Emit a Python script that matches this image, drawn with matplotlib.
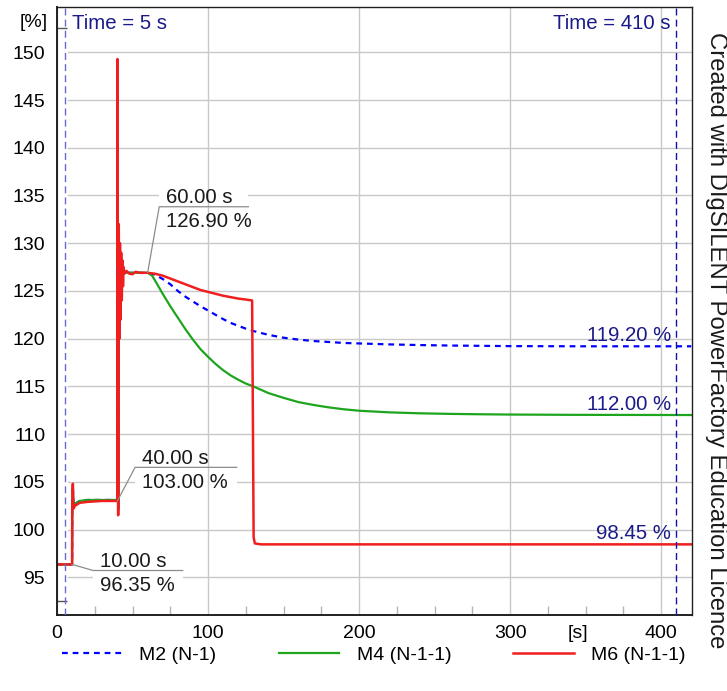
import matplotlib
matplotlib.use('Agg')
import matplotlib.pyplot as plt
from matplotlib.patches import Rectangle

plt.rcParams['font.family'] = ['Liberation Sans', 'DejaVu Sans']
plt.rcParams['font.size'] = 14

# Loading [%] of the three machines
blue_t = [0, 10, 10.1, 10.5, 10.9, 12, 15, 20, 30, 39.9,
          40.2, 40.6, 41.0, 41.5, 42.0, 42.6, 43.2, 44.0, 50, 55, 60,
          65, 70, 75, 80, 85, 90, 95, 100, 105, 110, 115, 120, 125, 130,
          140, 150, 160, 170, 180, 190, 200, 220, 240, 260, 280, 300, 350, 420]
blue_v = [96.35, 96.35, 102.5, 104.6, 102.4, 102.7, 103.0, 103.1, 103.1, 103.1,
          138.0, 102.0, 128.5, 122.0, 128.0, 125.0, 127.3, 126.9, 126.9, 126.9, 126.9,
          126.7, 126.25, 125.7, 125.0, 124.4, 123.9, 123.4, 122.95, 122.5, 122.05, 121.65, 121.35, 121.05, 120.8,
          120.4, 120.1, 119.9, 119.75, 119.65, 119.55, 119.5, 119.4, 119.33, 119.28, 119.25, 119.22, 119.2, 119.2]

green_t = [0, 10, 10.1, 10.5, 10.9, 12, 15, 20, 30, 39.9,
           40.2, 40.6, 41.0, 41.5, 42.0, 42.6, 43.2, 44.0, 50, 55, 60,
           63, 66, 70, 75, 80, 85, 90, 95, 100, 105, 110, 115, 120, 125, 130,
           140, 150, 160, 170, 180, 190, 200, 220, 240, 260, 280, 300, 340, 420]
green_v = [96.35, 96.35, 102.5, 104.5, 102.4, 102.7, 103.0, 103.1, 103.1, 103.1,
           135.0, 102.2, 128.0, 122.5, 127.8, 125.2, 127.2, 126.9, 126.9, 126.9, 126.9,
           126.6, 125.8, 124.7, 123.4, 122.2, 121.0, 119.9, 118.9, 118.1, 117.35, 116.7, 116.15, 115.7, 115.3, 115.0,
           114.3, 113.8, 113.35, 113.05, 112.8, 112.6, 112.45, 112.28, 112.18, 112.12, 112.08, 112.05, 112.02, 112.0]

red_t = [0, 10, 10.1, 10.5, 10.9, 12, 15, 20, 30, 39.9,
         40.05, 40.5, 40.9, 41.3, 41.7, 42.1, 42.5, 42.9, 43.3, 43.7, 44.1, 44.6,
         46, 48, 50, 52, 55, 60, 65, 70, 75, 80, 85, 90, 95, 100,
         105, 110, 115, 120, 125, 129.2, 129.7, 130.2, 131, 135, 420]
red_v = [96.35, 96.35, 102.4, 104.8, 102.2, 102.5, 102.8, 102.9, 103.0, 103.0,
         149.3, 101.5, 132.0, 120.0, 130.0, 122.0, 129.0, 124.0, 128.2, 125.5, 127.5, 126.8,
         127.1, 126.8, 126.75, 127.0, 126.9, 126.9, 126.8, 126.6, 126.3, 126.0, 125.7, 125.4, 125.1, 124.9,
         124.7, 124.5, 124.35, 124.2, 124.1, 124.0, 112.0, 99.2, 98.55, 98.45, 98.45]

series_names = ['M2 (N-1)', 'M4 (N-1-1)', 'M6 (N-1-1)']

# cursor labels (point, label anchor, end of separator line)
ann_t = [10, 40, 60]
ann_v = [96.35, 103.00, 126.90]
ann_lt = [24.0, 51.7, 67.7]
ann_lv = [95.71, 106.52, 133.82]
ann_et = [83.2, 119.0, 126.7]
ann_line1 = ['10.00 s', '40.00 s', '60.00 s']
ann_line2 = ['96.35 %', '103.00 %', '126.90 %']

cursor_times = [5, 410]
final_values = [119.2, 112.0, 98.45]
final_labels = ['119.20 %', '112.00 %', '98.45 %']

navy = '#1a1a8a'
label_size = 14.7

fig = plt.figure(figsize=(7.27, 6.91), dpi=100)
ax = fig.add_axes([0.0784, 0.110, 0.8735, 0.8799])
ax.set_xlim(0, 420.5)
ax.set_ylim(91.05, 154.75)

# grid
ax.set_xticks([0, 100, 200, 300, 400])
ax.set_yticks(range(95, 151, 5))
ax.grid(axis='x', color='#c8c8c8', lw=1.0, zorder=0.5)
for yv in range(95, 151, 5):
    ax.axhline(yv, xmin=0.017, color='#c8c8c8', lw=1.0, zorder=0.5)
ax.set_xticks(range(25, 420, 25), minor=True)
ax.set_yticks([92.5, 152.5], minor=True)
ax.tick_params(which='major', length=0, labelsize=14)
ax.tick_params(axis='x', which='major', pad=7.5)
ax.tick_params(axis='y', which='major', pad=8.5)
ax.tick_params(axis='x', which='minor', direction='in', length=6.5, color='#b5b5b5', width=1)
ax.tick_params(axis='y', which='minor', direction='in', length=7, color='#555555', width=1)
for s in ax.spines.values():
    s.set_color('#202020')
    s.set_linewidth(1.0)
ax.spines['left'].set_linewidth(1.4)
ax.spines['bottom'].set_linewidth(1.4)

# curves
ax.plot(blue_t, blue_v, color='#0000ff', lw=1.6, dashes=(2.6, 2.2), label=series_names[0], zorder=2)
ax.plot(green_t, green_v, color='#1ea51e', lw=1.6, label=series_names[1], zorder=2.1)
ax.plot(red_t, red_v, color='#f01e1e', lw=1.8, label=series_names[2], zorder=2.2)

# time cursors
ax.axvline(cursor_times[0], color='#6a6ac8', lw=1.0, ls=(0, (5, 3)), zorder=3)
ax.axvline(cursor_times[1], color='#1010b0', lw=1.0, ls=(0, (5, 3)), zorder=3)
ax.annotate('Time = 5 s', (cursor_times[0], 0.9633), xycoords=('data', 'axes fraction'),
            xytext=(5.5, 0), textcoords='offset points', ha='left', va='baseline',
            color=navy, fontsize=label_size)
ax.annotate('Time = 410 s', (cursor_times[1], 0.9633), xycoords=('data', 'axes fraction'),
            xytext=(-4.3, 0), textcoords='offset points', ha='right', va='baseline',
            color=navy, fontsize=label_size)
for v, lab in zip(final_values, final_labels):
    ax.annotate(lab, (cursor_times[1], v), xytext=(-3.6, 3.8), textcoords='offset points',
                ha='right', va='baseline', color=navy, fontsize=label_size)

# point labels
for t, v, lt, lv, et, l1, l2 in zip(ann_t, ann_v, ann_lt, ann_lv, ann_et, ann_line1, ann_line2):
    ax.add_patch(Rectangle((lt, lv - 2.65), et - lt, 4.65, facecolor='white', edgecolor='none', zorder=1.5))
    ax.plot([t, lt, et], [v, lv, lv], color='#8c8c8c', lw=0.9, zorder=4)
    ax.annotate(l1, (lt, lv), xytext=(5, 2.5), textcoords='offset points', ha='left', va='baseline',
                color='#1a1a1a', fontsize=label_size)
    ax.annotate(l2, (lt, lv), xytext=(5, -4), textcoords='offset points', ha='left', va='top',
                color='#1a1a1a', fontsize=label_size)

# axis units
ax.annotate('[%]', (0, 153.1), xycoords=('axes fraction', 'data'), xytext=(-7, 0),
            textcoords='offset points', ha='right', va='center')
ax.annotate('[s]', (345, 0), xycoords=('data', 'axes fraction'), xytext=(0, -7.5),
            textcoords='offset points', ha='center', va='top')

fig.legend(loc='center', bbox_to_anchor=(0.514, 0.052), ncol=3, frameon=False,
           handlelength=3.1, handletextpad=0.9, columnspacing=3.2, fontsize=14)

fig.text(0.985, 0.508, 'Created with DIgSILENT PowerFactory Education Licence',
         rotation=-90, ha='center', va='center', fontsize=17.2, color='#1a1a1a')

fig.savefig('out.png', dpi=100)
